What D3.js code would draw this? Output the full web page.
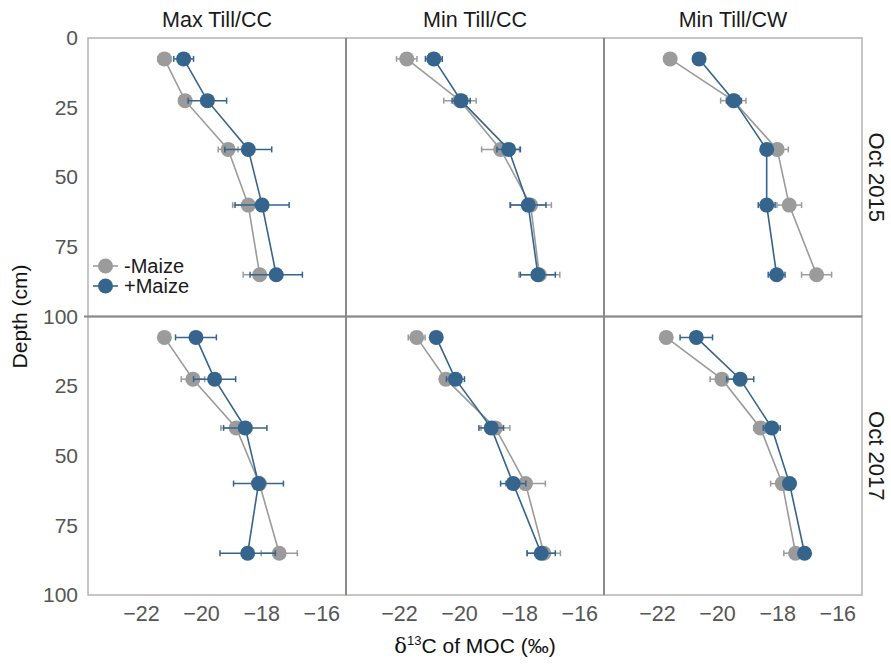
<!DOCTYPE html>
<html lang='en'>
	<head>
		<meta charset='UTF-8'>
		<title>MOC d13C by depth</title>
		<style>
			body { margin: 0; background: #fff; }
			text { font-family: 'Liberation Sans', Arial, sans-serif; }
		</style>
	</head>
	<body>
		<svg id='graph' width='891' height='664'></svg>

		<script src='https://d3js.org/d3.v7.min.js'></script>
		<script>
			// sampling depths (cm, mid-point of each layer)
			const depths = [7.5, 22.5, 40, 60, 85]
			const treatments = ['Max Till/CC', 'Min Till/CC', 'Min Till/CW']
			const dates = ['Oct 2015', 'Oct 2017']
			const series = ['-Maize', '+Maize']
			const xTicks = [-22, -20, -18, -16]
			const yTicks = [0, 25, 50, 75, 100]

			// delta 13C means, one row per treatment
			const noMaize2015 = [
				[-21.22, -20.53, -19.10, -18.43, -18.05],
				[-21.74, -19.97, -18.62, -17.62, -17.33],
				[-21.56, -19.46, -18.00, -17.60, -16.69]
			]
			const maize2015 = [
				[-20.58, -19.79, -18.43, -17.97, -17.50],
				[-20.84, -19.93, -18.35, -17.70, -17.38],
				[-20.60, -19.44, -18.35, -18.35, -18.02]
			]
			const noMaize2017 = [
				[-21.22, -20.27, -18.83, -18.06, -17.40],
				[-21.41, -20.44, -18.79, -17.79, -17.18],
				[-21.69, -19.84, -18.56, -17.83, -17.39]
			]
			const maize2017 = [
				[-20.17, -19.55, -18.53, -18.09, -18.45],
				[-20.76, -20.12, -18.93, -18.20, -17.27],
				[-20.69, -19.23, -18.18, -17.59, -17.09]
			]

			// standard errors
			const noMaizeErr2015 = [
				[0.22, 0.10, 0.33, 0.52, 0.55],
				[0.34, 0.54, 0.63, 0.69, 0.68],
				[0.05, 0.42, 0.37, 0.41, 0.50]
			]
			const maizeErr2015 = [
				[0.33, 0.64, 0.78, 0.90, 0.87],
				[0.28, 0.30, 0.39, 0.59, 0.58],
				[0.05, 0.25, 0.10, 0.28, 0.28]
			]
			const noMaizeErr2017 = [
				[0.05, 0.39, 0.51, 0.10, 0.60],
				[0.28, 0.10, 0.48, 0.66, 0.55],
				[0.05, 0.39, 0.21, 0.39, 0.39]
			]
			const maizeErr2017 = [
				[0.68, 0.70, 0.72, 0.83, 0.92],
				[0.10, 0.30, 0.41, 0.42, 0.47],
				[0.54, 0.45, 0.28, 0.10, 0.10]
			]

			const means = [[noMaize2015, maize2015], [noMaize2017, maize2017]]
			const errs = [[noMaizeErr2015, maizeErr2015], [noMaizeErr2017, maizeErr2017]]

			const svg = d3.select('#graph')
			const marginLeft = 88
			const marginTop = 38
			const panelW = 258
			const panelH = 278.5
			const colors = ['#9b9b9b', '#35648c']
			const fontFamily = "'Liberation Sans', Arial, sans-serif"

			const xScale = d3.scaleLinear().domain([-23.76, -15.18]).range([0, panelW])
			const yScale = d3.scaleLinear().domain([0, 100]).range([0, panelH])

			const line = d3.line()
				.x((d) => xScale(d.v))
				.y((d) => yScale(d.depth))

			dates.forEach((date, r) => {
				treatments.forEach((trt, c) => {
					const g = svg.append('g')
						.attr('transform', `translate(${marginLeft + c * panelW}, ${marginTop + r * panelH})`)

					g.append('rect')
						.attr('width', panelW)
						.attr('height', panelH)
						.attr('fill', 'none')
						.attr('stroke', '#b3b3b3')
						.attr('stroke-width', 1.5)

					series.forEach((s, k) => {
						const pts = depths.map((depth, i) => ({
							depth: depth,
							v: means[r][k][c][i],
							e: errs[r][k][c][i]
						}))

						g.append('path')
							.datum(pts)
							.attr('d', line)
							.attr('fill', 'none')
							.attr('stroke', colors[k])
							.attr('stroke-width', 1.6)

						const bars = g.append('g')
							.attr('stroke', colors[k])
							.attr('stroke-width', 1.5)
						bars.selectAll(null)
							.data(pts)
							.enter()
							.append('line')
							.attr('x1', (d) => xScale(d.v - d.e))
							.attr('x2', (d) => xScale(d.v + d.e))
							.attr('y1', (d) => yScale(d.depth))
							.attr('y2', (d) => yScale(d.depth))
						bars.selectAll(null)
							.data(pts)
							.enter()
							.append('line')
							.attr('x1', (d) => xScale(d.v - d.e))
							.attr('x2', (d) => xScale(d.v - d.e))
							.attr('y1', (d) => yScale(d.depth) - 3)
							.attr('y2', (d) => yScale(d.depth) + 3)
						bars.selectAll(null)
							.data(pts)
							.enter()
							.append('line')
							.attr('x1', (d) => xScale(d.v + d.e))
							.attr('x2', (d) => xScale(d.v + d.e))
							.attr('y1', (d) => yScale(d.depth) - 3)
							.attr('y2', (d) => yScale(d.depth) + 3)

						g.selectAll(null)
							.data(pts)
							.enter()
							.append('circle')
							.attr('cx', (d) => xScale(d.v))
							.attr('cy', (d) => yScale(d.depth))
							.attr('r', 7.5)
							.attr('fill', colors[k])
					})

					// strip labels
					if (r === 0) {
						svg.append('text')
							.attr('x', marginLeft + c * panelW + panelW / 2)
							.attr('y', 27)
							.attr('text-anchor', 'middle')
							.attr('font-size', 21.5)
							.attr('fill', '#1a1a1a')
							.text(trt)
					}
					if (c === treatments.length - 1) {
						const cy = marginTop + r * panelH + panelH / 2
						svg.append('text')
							.attr('transform', `translate(869, ${cy}) rotate(90)`)
							.attr('text-anchor', 'middle')
							.attr('font-size', 22)
							.attr('fill', '#1a1a1a')
							.text(date)
					}

					// x axis under bottom row
					if (r === dates.length - 1) {
						const xAxis = d3.axisBottom(xScale).tickValues(xTicks).tickSize(0).tickPadding(11)
						g.append('g')
							.attr('transform', `translate(0, ${panelH})`)
							.call(xAxis)
							.call((a) => a.select('.domain').remove())
							.selectAll('text')
							.attr('font-size', 21.5)
							.attr('fill', '#555')
							.attr('font-family', fontFamily)
					}

					// y axis on left column
					if (c === 0) {
						const ticks = r === 0 ? yTicks : yTicks.slice(1)
						const yAxis = d3.axisLeft(yScale).tickValues(ticks).tickSize(0).tickPadding(10)
						g.append('g')
							.call(yAxis)
							.call((a) => a.select('.domain').remove())
							.selectAll('text')
							.attr('font-size', 21)
							.attr('fill', '#555')
							.attr('font-family', fontFamily)
					}
				})
			})

			// darker dividers between panels
			const dividers = svg.append('g')
				.attr('stroke', '#8a8a8a')
				.attr('stroke-width', 2)
			d3.range(1, treatments.length).forEach((c) => {
				dividers.append('line')
					.attr('x1', marginLeft + c * panelW)
					.attr('x2', marginLeft + c * panelW)
					.attr('y1', marginTop)
					.attr('y2', marginTop + dates.length * panelH)
			})
			dividers.append('line')
				.attr('x1', marginLeft - 4)
				.attr('x2', marginLeft + treatments.length * panelW)
				.attr('y1', marginTop + panelH)
				.attr('y2', marginTop + panelH)

			// legend inside first panel
			const legend = svg.append('g').attr('transform', 'translate(93, 266)')
			series.forEach((s, k) => {
				const row = legend.append('g').attr('transform', `translate(0, ${k * 20})`)
				row.append('line')
					.attr('x1', 0).attr('x2', 25)
					.attr('stroke', colors[k])
					.attr('stroke-width', 1.6)
				row.append('circle')
					.attr('cx', 12.5)
					.attr('r', 7.5)
					.attr('fill', colors[k])
				row.append('text')
					.attr('x', 31)
					.attr('y', 7)
					.attr('font-size', 20)
					.attr('fill', '#1a1a1a')
					.text(s)
			})

			// axis titles
			svg.append('text')
				.attr('transform', `translate(27, ${marginTop + panelH}) rotate(-90)`)
				.attr('text-anchor', 'middle')
				.attr('font-size', 21)
				.attr('fill', '#111')
				.text('Depth (cm)')

			const xTitle = svg.append('text')
				.attr('x', marginLeft + treatments.length * panelW / 2)
				.attr('y', 653)
				.attr('text-anchor', 'middle')
				.attr('font-size', 21)
				.attr('fill', '#111')
			xTitle.append('tspan').attr('font-family', "'DejaVu Serif', serif").text('\u03B4')
			xTitle.append('tspan').attr('font-size', 13).attr('dy', -8).text('13')
			xTitle.append('tspan').attr('dy', 8).text('C of MOC (\u2030)')
		</script>
	</body>
</html>
